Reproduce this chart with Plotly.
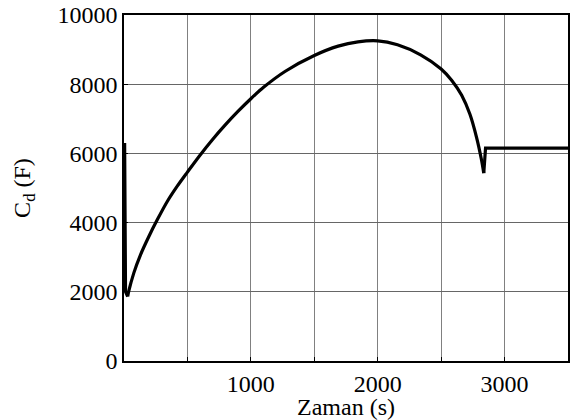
import plotly.graph_objects as go

# Data
time_s = [5, 12, 29, 37, 77, 130, 196, 262, 341, 421, 500, 593, 700, 800, 900,
          1000, 1100, 1272, 1500, 1688, 1844, 2000, 2156, 2338, 2500, 2584,
          2662, 2727, 2780, 2818, 2836, 2844, 2850, 3500]
cap_F = [6300, 2000, 1865, 2010, 2540, 3070, 3600, 4080, 4610, 5060, 5460, 5920, 6410, 6830, 7220,
         7580, 7910, 8375, 8830, 9100, 9225, 9255, 9140, 8850, 8440, 8110,
         7680, 7130, 6450, 5815, 5430, 6150, 6150, 6150]

x_tickvals = [500, 1000, 1500, 2000, 2500, 3000, 3500]
x_ticktext = ["", "1000", "", "2000", "", "3000", ""]
y_tickvals = [0, 2000, 4000, 6000, 8000, 10000]
y_ticktext = ["0", "2000", "4000", "6000", "8000", "10000"]

font = "Liberation Serif, Times New Roman, serif"

# smooth middle part (from the minimum after the start spike to the dip), straight elsewhere
i0 = 2
i1 = cap_F.index(5430, 20)

fig = go.Figure()
fig.add_trace(go.Scatter(x=time_s[:i0 + 1], y=cap_F[:i0 + 1], mode="lines",
                         line=dict(color="black", width=3.2), showlegend=False))
fig.add_trace(go.Scatter(x=time_s[i0:i1 + 1], y=cap_F[i0:i1 + 1], mode="lines",
                         line=dict(color="black", width=3.2, shape="spline", smoothing=0.8),
                         showlegend=False))
fig.add_trace(go.Scatter(x=time_s[i1:], y=cap_F[i1:], mode="lines",
                         line=dict(color="black", width=3.2), showlegend=False))

fig.update_layout(
    width=572, height=420,
    margin=dict(l=124, r=2, t=15, b=59),
    paper_bgcolor="white", plot_bgcolor="white",
    font=dict(family=font, size=24, color="black"),
    annotations=[dict(text="Zaman (s)", xref="paper", yref="paper", x=0.5, y=-0.132,
                      xanchor="center", yanchor="middle", showarrow=False,
                      font=dict(size=24))],
)
fig.update_xaxes(
    range=[0, 3500], tickvals=x_tickvals, ticktext=x_ticktext,
    showgrid=True, gridcolor="#808080", gridwidth=1,
    showline=True, linecolor="black", linewidth=1.5, mirror=True,
    ticks="inside", ticklen=4, tickcolor="black",
    zeroline=False,
)
fig.update_yaxes(
    range=[0, 10000], tickvals=y_tickvals, ticktext=y_ticktext,
    showgrid=True, gridcolor="#666666", gridwidth=1,
    showline=True, linecolor="black", linewidth=1.5, mirror=True,
    ticks="inside", ticklen=4, tickcolor="black",
    zeroline=False,
    title=dict(text="C<sub>d</sub> (F)", standoff=20, font=dict(size=24)),
)

fig.write_html("out.html")
